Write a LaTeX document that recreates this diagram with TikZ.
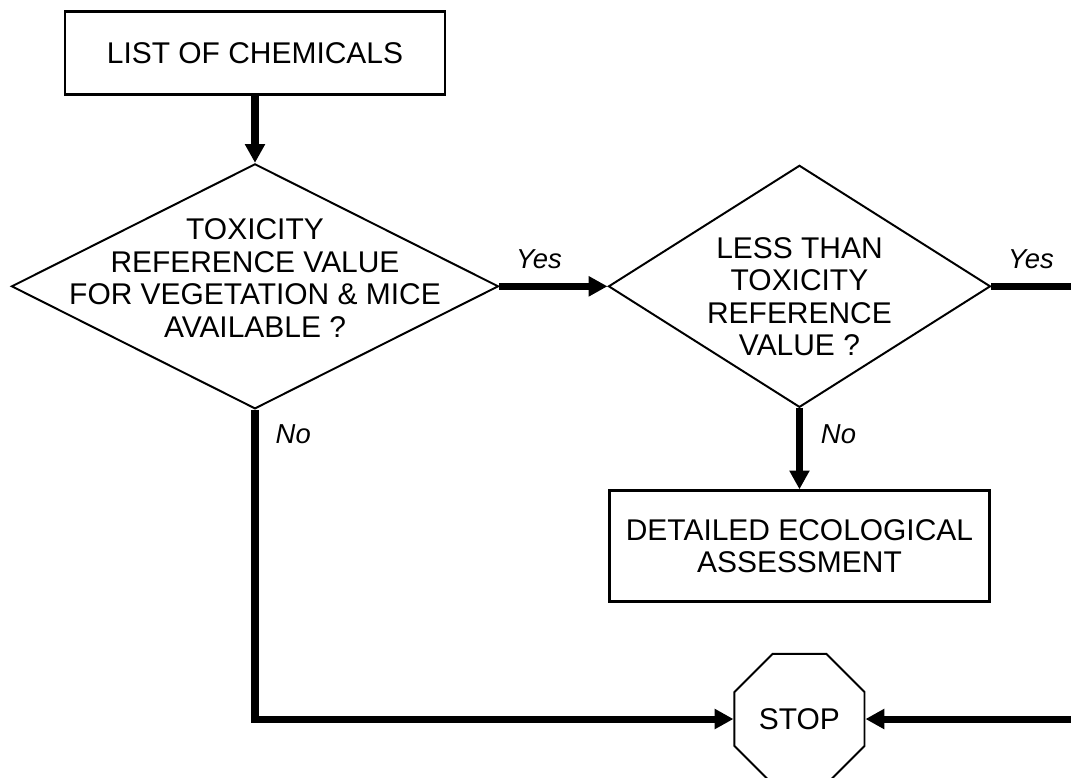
\documentclass[tikz,border=0pt]{standalone}
\usepackage{fontspec}
\setmainfont{Liberation Sans}
\usetikzlibrary{shapes.geometric, positioning, arrows.meta}
\tikzset{
    process/.style={rectangle, minimum width=9.5cm, text centered, align=center, draw=black, line width=1.9pt, inner sep=0pt},
    decision/.style={diamond, draw=black, line width=1.4pt, inner sep=0pt},
    terminal/.style={regular polygon, regular polygon sides=8, minimum size=3.52cm, draw=black, line width=1.4pt, inner sep=0pt},
    arrow/.style={line width=5pt, -{Triangle[length=0.47cm, width=0.48cm]}},
    line/.style={line width=5pt},
    answer/.style={anchor=base west, inner sep=0pt, font=\fontsize{19.5}{22}\selectfont\itshape}
}

\begin{document}
\begin{tikzpicture}[font=\fontsize{21.3}{23.2}\selectfont]
        \useasboundingbox (-6.375,1.325) rectangle (20.4,-18.125);
        % Nodes
        \node (chem) [process, minimum height=2.075cm] {LIST OF CHEMICALS};
        \node (avail) [decision, below=1.675cm of chem, minimum width=12.175cm, minimum height=6.125cm,
            label={[align=center, yshift=0.21cm]center:TOXICITY\\REFERENCE VALUE\\FOR VEGETATION \& MICE\\AVAILABLE ?}] {};
        \node (less) [decision, right=2.7cm of avail, minimum width=9.55cm, minimum height=6.05cm,
            label={[align=center, yshift=-0.26cm]center:LESS THAN\\TOXICITY\\REFERENCE\\VALUE ?}] {};
        \node (detail) [process, below=2.025cm of less, minimum height=2.775cm] {DETAILED ECOLOGICAL\\ASSESSMENT};
        \node (stop) [terminal, below=1.25cm of detail] {STOP};
        \coordinate (rim) at (20.4,0);
        \coordinate (yesend) at (less.east -| rim);
        \coordinate (backend) at (stop.east -| rim);

        % Arrows
        \draw [arrow] (chem) -- (avail);
        \draw [arrow] (avail.east) -- node[answer, pos=0, xshift=0.33cm, yshift=0.45cm] {Yes} (less.west);
        \draw [line] (less.east) -- node[answer, pos=0, xshift=0.33cm, yshift=0.45cm] {Yes} (yesend);
        \draw [arrow] (less.south) -- node[answer, pos=0, xshift=0.45cm, yshift=-0.88cm] {No} (detail.north);
        \draw [arrow] (avail.south) |- node[answer, pos=0, xshift=0.43cm, yshift=-0.83cm] {No} (stop.west);
        \draw [arrow] (backend) -- (stop.east);
    \end{tikzpicture}
\end{document}
